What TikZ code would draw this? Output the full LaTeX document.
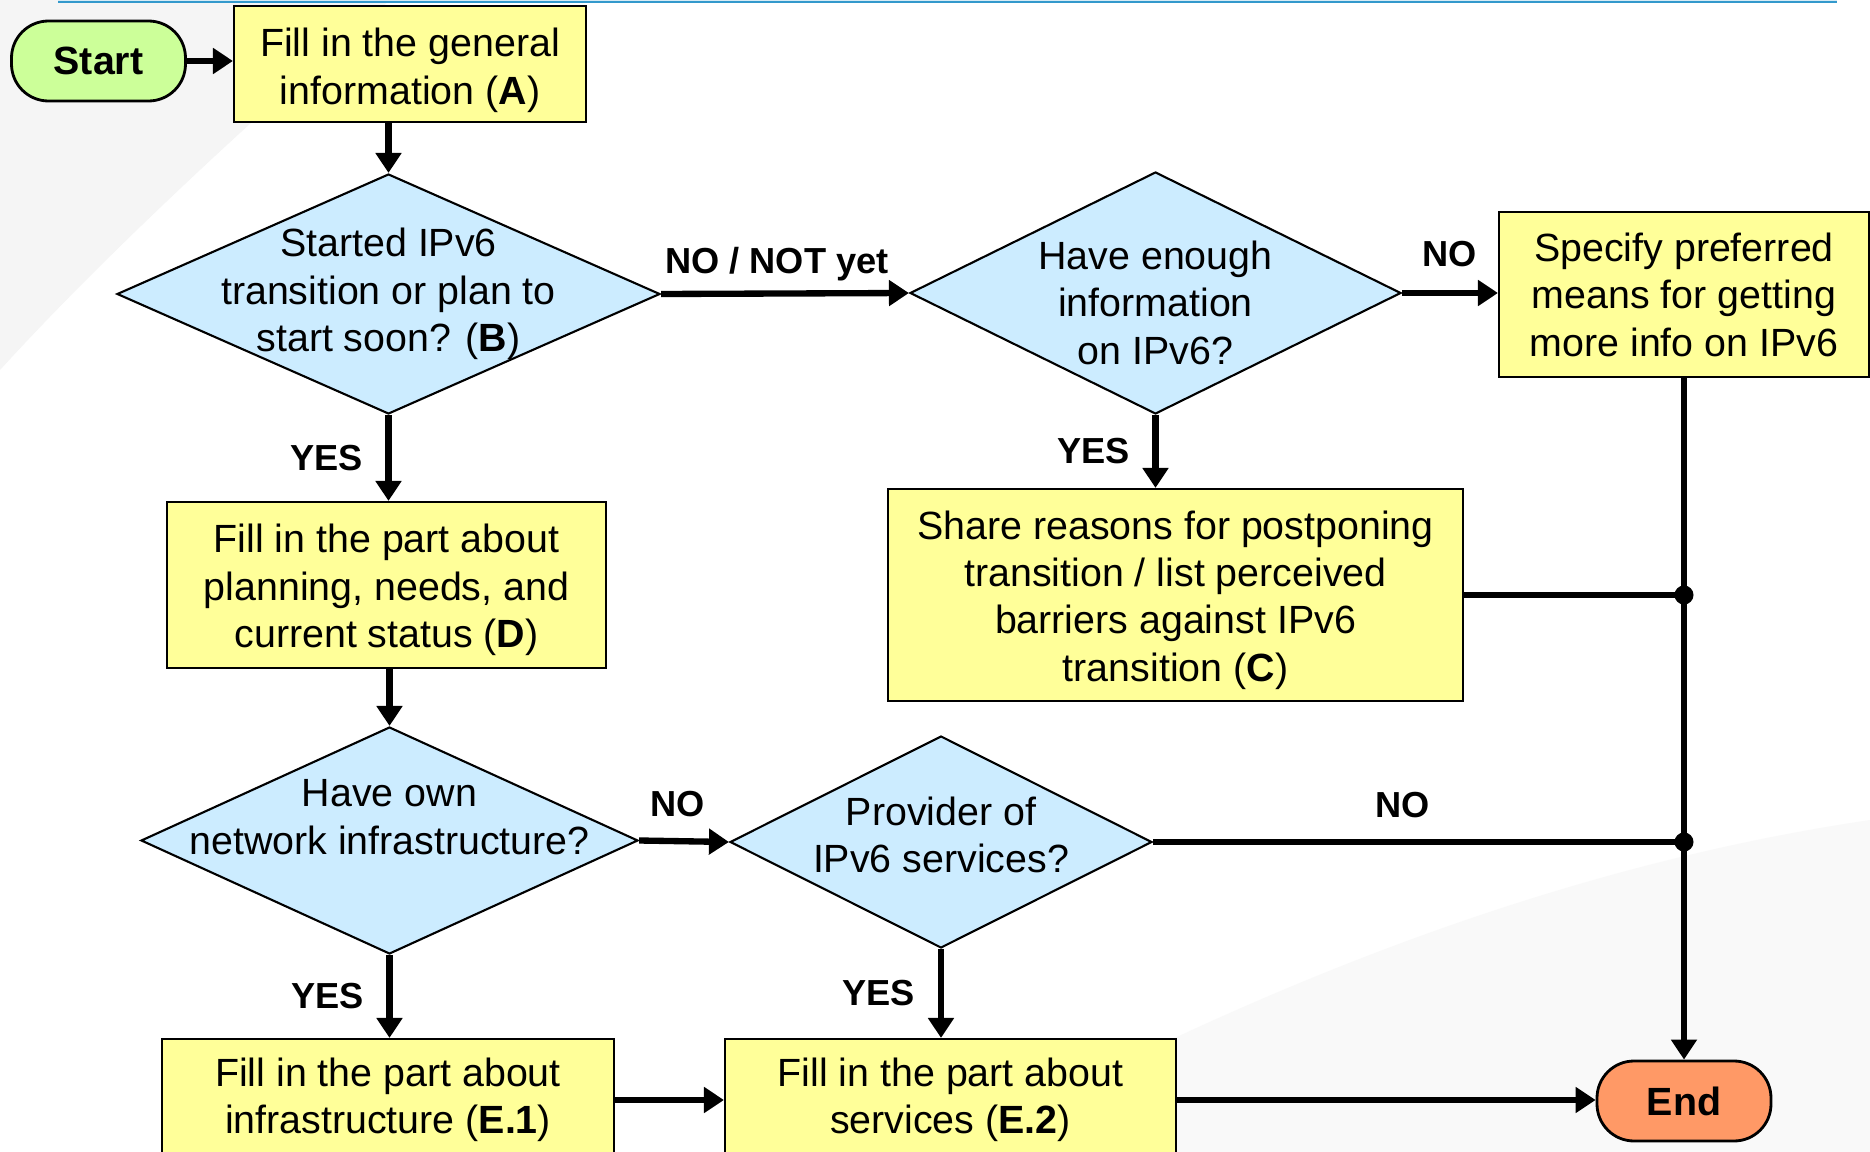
\documentclass[tikz,border=0pt]{standalone}
\usepackage{fontspec}
\setmainfont{Liberation Sans}
\usetikzlibrary{shapes.geometric,arrows.meta,positioning}
\definecolor{boxyellow}{HTML}{FFFF99}
\definecolor{diamblue}{HTML}{CCECFF}
\definecolor{startgreen}{HTML}{CCFF99}
\definecolor{endorange}{HTML}{FF9966}
\definecolor{barblue}{HTML}{3399CC}
\tikzset{
  process/.style={draw, line width=0.6pt, fill=boxyellow, align=center, inner sep=0pt},
  decision/.style={draw, line width=0.6pt, fill=diamblue, diamond, shape aspect=2.2,
    align=center, inner sep=-0.5cm},
  terminal/.style={draw, line width=0.8pt, fill=#1, rounded corners=0.37cm,
    font=\fontsize{11.2}{13.5}\selectfont\bfseries, minimum width=1.74cm, minimum height=0.8cm},
  flow/.style={line width=1.8pt, -{Triangle[length=0.2cm, width=0.25cm]}},
  joint/.style={line width=1.8pt},
  tag/.style={font=\fontsize{10.3}{12}\selectfont\bfseries},
  over/.style={anchor=base, yshift=#1},
  junction/.style={fill=black}
}

\begin{document}
\begin{tikzpicture}[font=\fontsize{11.2}{13.5}\selectfont]
\useasboundingbox (0,0) rectangle (18.7,-11.52);
\fill[white] (0,0) rectangle (18.7,-11.52);
\fill[gray!8] (0,0) -- (3.9,0) .. controls (2.5,-1.2) and (1,-2.6) .. (0,-3.7) -- cycle;
\fill[gray!5] (9.5,-11.52) .. controls (13,-9.6) and (16,-8.6) .. (18.7,-8.2) -- (18.7,-11.52) -- cycle;
\fill[barblue!20] (0.58,0.05) rectangle (18.37,-0.02);
\draw[barblue, line width=0.8pt] (0.58,-0.02) -- (18.37,-0.02);

\node[terminal=startgreen] (start) at (0.985,-0.61) {Start};
\node[process, minimum width=3.52cm, minimum height=1.16cm] (A) at (4.10,-0.64)
  {\rule{0pt}{11.8pt}Fill in the general\\information (\textbf{A})};
\node[decision, minimum width=5.43cm, minimum height=2.40cm] (B) at (3.885,-2.94)
  {Started IPv6\\transition or plan to\\start soon? (\textbf{B})};
\node[decision, minimum width=4.91cm, minimum height=2.42cm] (info) at (11.555,-2.93)
  {\rule{0pt}{13.6pt}Have enough\\information\\on IPv6?};
\node[process, minimum width=3.70cm, minimum height=1.65cm] (more) at (16.84,-2.945)
  {Specify preferred\\means for getting\\more info on IPv6};
\node[process, minimum width=5.75cm, minimum height=2.12cm] (barr) at (11.755,-5.95)
  {\rule{0pt}{11pt}Share reasons for postponing\\transition / list perceived\\barriers against IPv6\\transition (\textbf{C})};
\node[process, minimum width=4.39cm, minimum height=1.66cm] (plan) at (3.865,-5.85)
  {\rule{0pt}{11pt}Fill in the part about\\planning, needs, and\\current status (\textbf{D})};
\node[decision, minimum width=4.97cm, minimum height=2.27cm] (own) at (3.895,-8.405)
  {Have own\\network infrastructure?\\\mbox{}};
\node[decision, minimum width=4.22cm, minimum height=2.12cm] (prov) at (9.41,-8.42)
  {Provider of\\IPv6 services?\rule[-4pt]{0pt}{4pt}};
\node[process, minimum width=4.52cm, minimum height=1.22cm] (infra) at (3.88,-11.0)
  {Fill in the part about\\infrastructure (\textbf{E.1})};
\node[process, minimum width=4.51cm, minimum height=1.22cm] (serv) at (9.505,-11.0)
  {Fill in the part about\\services (\textbf{E.2})};
\node[terminal=endorange] (end) at (16.84,-11.01) {End};

\draw[flow] (start.east) -- (start.east -| A.west);
\draw[flow] (A.south -| B.north) -- (B.north);
\draw[flow] (B.east) -- node[tag, over=0.2cm, xshift=-0.08cm] {NO / NOT yet} (info.west);
\draw[flow] (info.east) -- node[tag, over=0.26cm] {NO} (info.east -| more.west);
\draw[flow] (info.south) -- node[tag, left=0.11cm] {YES} (info.south |- barr.north);
\draw[flow] (B.south) -- node[tag, left=0.11cm] {YES} (B.south |- plan.north);
\draw[flow] (plan.south -| own.north) -- (own.north);
\draw[flow] (own.east) -- node[tag, over=0.25cm, xshift=-0.06cm] {NO} (prov.west);
\draw[flow] (own.south) -- node[tag, left=0.11cm] {YES} (own.south |- infra.north);
\draw[flow] (prov.south) -- node[tag, left=0.11cm] {YES} (prov.south |- serv.north);
\draw[flow] (infra.east) -- (serv.west);
\draw[flow] (serv.east) -- (serv.east -| end.west);
\draw[flow] (more.south) -- (end.north);
\coordinate (j1) at (barr.east -| more.south);
\coordinate (j2) at (prov.east -| more.south);
\draw[joint] (barr.east) -- (j1);
\draw[joint] (prov.east) -- node[tag, over=0.25cm, pos=0.47] {NO} (j2);
\fill[junction] (j1) circle (0.095cm);
\fill[junction] (j2) circle (0.095cm);
\end{tikzpicture}
\end{document}
